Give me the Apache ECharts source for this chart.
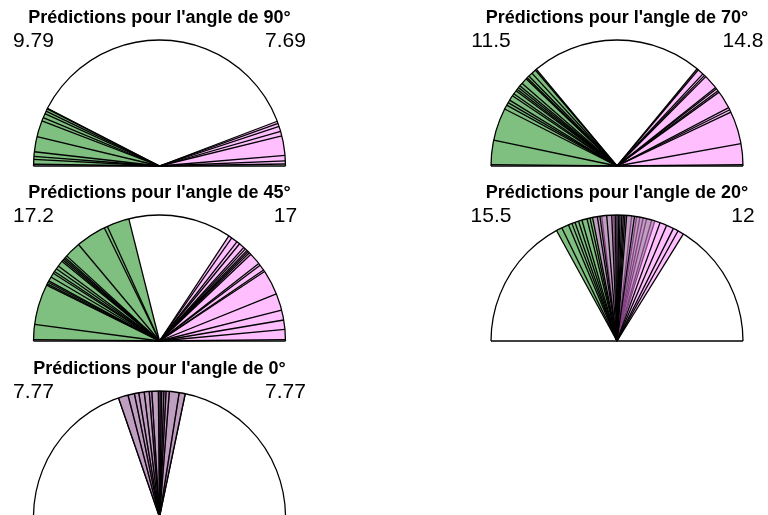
<!DOCTYPE html>
<html>
<head>
<meta charset="utf-8">
<script src="https://cdn.jsdelivr.net/npm/echarts@6/dist/echarts.min.js"></script>
<style>
html, body { margin: 0; padding: 0; background: #fff; }
#chart { width: 768px; height: 515px; }
</style>
</head>
<body>
<div id="chart"></div>
<script>
// Target angle of each panel (degrees)
const targetAngles = [90, 70, 45, 20, 0];
// Scores printed at the left / right ends of each half-disc
const leftScores = ['9.79', '11.5', '17.2', '15.5', '7.77'];
const rightScores = ['7.69', '14.8', '17', '12', '7.77'];

// Left-side predictions, degrees measured from the left horizontal
const leftPred90 = [0.8, 3.0, 4.4, 6.5, 13.5, 21.0, 22.6, 24.6, 25.8, 27.0, 27.3];
const leftPred70 = [0.6, 11.9, 26.9, 28.9, 30.2, 31.5, 33.9, 35.0, 36.7, 37.5, 38.5, 39.5, 41.0, 43.8, 44.5, 45.6, 47.5, 49.6, 50.2];
const leftPred45 = [0.6, 7.6, 26.3, 27.0, 27.8, 28.5, 30.5, 32.5, 33.5, 35.0, 36.5, 39.2, 40.0, 40.8, 41.5, 42.5, 50.0, 64.0, 65.5, 75.9];
const leftPred20 = [61.3, 64.0, 67.3, 69.0, 70.5, 72.2, 73.8, 76.2, 77.6, 83.0, 88.5, 96.7, 99.0, 100.5, 102.0, 103.6, 106.0, 107.5];
const leftPred0 = [71.0, 75.5, 78.5, 80.5, 83.0, 85.3, 86.5, 89.5, 90.3, 91.0, 92.0, 93.0, 94.5, 99.0, 101.8];

// Right-side predictions, degrees measured from the right horizontal
const rightPred90 = [0.9, 2.3, 4.8, 13.8, 16.0, 18.3, 19.8, 20.8];
const rightPred70 = [0.6, 10.2, 25.3, 26.5, 27.6, 35.9, 36.7, 37.8, 38.5, 45.2, 46.0, 47.0, 49.8, 50.5];
const rightPred45 = [0.6, 5.3, 9.6, 14.2, 22.0, 33.5, 34.3, 37.0, 38.0, 43.5, 44.5, 45.3, 46.0, 47.0, 48.0, 50.5, 52.0, 55.0, 56.6];
const rightPred20 = [58.2, 61.0, 63.4, 66.8, 70.0, 82.0, 85.6, 86.4, 87.1, 87.8, 88.6, 89.2, 90.0, 90.8, 92.4, 94.7, 97.8, 99.0, 101.2];
const rightPred0 = [78.2, 81.0, 85.5, 87.0, 88.0, 89.0, 89.7, 90.5, 93.5, 94.7, 97.0, 99.5, 101.5, 104.5, 109.0];

const leftPreds = [leftPred90, leftPred70, leftPred45, leftPred20, leftPred0];
const rightPreds = [rightPred90, rightPred70, rightPred45, rightPred20, rightPred0];

// Layout: half-disc centres (px) and radius
const centers = [[159.5, 166], [617, 166], [159.5, 341], [617, 341], [159.5, 517]];
const R = 126;

const GREEN = 'rgba(0,128,0,0.5)';
const PINK = 'rgba(255,128,255,0.5)';
const FONT = '"Liberation Sans", Arial, Helvetica, sans-serif';

// Filled sector between the smallest and largest prediction
function fanRenderer(params, api) {
  const a0 = api.value(0), a1 = api.value(1);
  const pts = [api.coord([0, a0])];
  for (let a = a0; a < a1; a += 0.25) pts.push(api.coord([1, a]));
  pts.push(api.coord([1, a1]));
  return {
    type: 'polygon',
    shape: { points: pts },
    style: { fill: api.visual('color'), stroke: null }
  };
}

// One radius per prediction
function rayRenderer(params, api) {
  const a = api.value(0);
  const p0 = api.coord([0, a]);
  const p1 = api.coord([1, a]);
  return {
    type: 'line',
    shape: { x1: p0[0], y1: p0[1], x2: p1[0], y2: p1[1] },
    style: { stroke: '#000', lineWidth: 1.3 }
  };
}

// Diameter closing the half-disc
function baseRenderer(params, api) {
  const p0 = api.coord([1, api.value(0)]);
  const p1 = api.coord([1, api.value(1)]);
  return {
    type: 'line',
    shape: { x1: p0[0], y1: p0[1], x2: p1[0], y2: p1[1] },
    style: { stroke: '#000', lineWidth: 1.5 }
  };
}

const polar = [], angleAxis = [], radiusAxis = [], series = [], graphic = [];

targetAngles.forEach((target, i) => {
  const [cx, cy] = centers[i];
  polar.push({ center: [cx, cy], radius: R });
  angleAxis.push({
    polarIndex: i, type: 'value', min: 0, max: 180,
    startAngle: 180, endAngle: 0, clockwise: true, z: 10,
    axisLine: { show: true, lineStyle: { color: '#000', width: 1.3 } },
    axisTick: { show: false }, axisLabel: { show: false },
    splitLine: { show: false }, splitArea: { show: false }
  });
  radiusAxis.push({
    polarIndex: i, type: 'value', min: 0, max: 1, show: false,
    axisLine: { show: false }, axisTick: { show: false },
    axisLabel: { show: false }, splitLine: { show: false }
  });

  const left = leftPreds[i];
  const right = rightPreds[i].map(v => 180 - v);

  series.push({
    type: 'custom', coordinateSystem: 'polar', polarIndex: i, z: 2,
    itemStyle: { color: GREEN }, silent: true, clip: false,
    data: [[Math.min(...left), Math.max(...left)]], renderItem: fanRenderer
  });
  series.push({
    type: 'custom', coordinateSystem: 'polar', polarIndex: i, z: 3,
    silent: true, clip: false,
    data: left.map(v => [v]), renderItem: rayRenderer
  });
  series.push({
    type: 'custom', coordinateSystem: 'polar', polarIndex: i, z: 4,
    itemStyle: { color: PINK }, silent: true, clip: false,
    data: [[Math.min(...right), Math.max(...right)]], renderItem: fanRenderer
  });
  series.push({
    type: 'custom', coordinateSystem: 'polar', polarIndex: i, z: 5,
    silent: true, clip: false,
    data: right.map(v => [v]), renderItem: rayRenderer
  });
  series.push({
    type: 'custom', coordinateSystem: 'polar', polarIndex: i, z: 6,
    silent: true, clip: false,
    data: [[0, 180]], renderItem: baseRenderer
  });

  graphic.push({
    type: 'text', x: cx, y: cy - R - 22, z: 20,
    style: {
      text: "Prédictions pour l'angle de " + target + '°',
      font: 'bold 18px ' + FONT, fill: '#000',
      align: 'center', verticalAlign: 'middle'
    }
  });
  graphic.push({
    type: 'text', x: cx - R, y: cy - R + 1.5, z: 20,
    style: {
      text: leftScores[i], font: '21px ' + FONT, fill: '#000',
      align: 'center', verticalAlign: 'middle'
    }
  });
  graphic.push({
    type: 'text', x: cx + R, y: cy - R + 1.5, z: 20,
    style: {
      text: rightScores[i], font: '21px ' + FONT, fill: '#000',
      align: 'center', verticalAlign: 'middle'
    }
  });
});

const chart = echarts.init(document.getElementById('chart'), null, { renderer: 'canvas' });
chart.setOption({
  animation: false,
  backgroundColor: '#fff',
  polar, angleAxis, radiusAxis, series, graphic
});
</script>
</body>
</html>
